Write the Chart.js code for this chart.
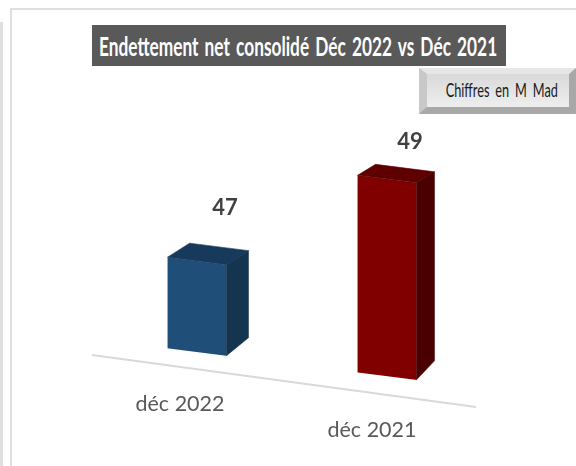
<!DOCTYPE html>
<html>
<head>
<meta charset="utf-8">
<script src="https://cdn.jsdelivr.net/npm/chart.js@4"></script>
<style>
  body { margin: 0; background: #fff; overflow: hidden; }
  #wrap { position: relative; width: 576px; height: 466px; }
  #chart { position: absolute; left: 0; top: 0; }
  .frame { position: absolute; background: #dfdfdf; }
  #title {
    position: absolute; left: 92px; top: 25px; width: 414px; height: 41px;
    background: #595959; color: #fff; text-align: center; white-space: nowrap;
    font: bold 27px/41px Lato, sans-serif;
  }
  #title span { display: inline-block; margin: 0 -100px; transform: translateX(-5px) scaleX(0.64); word-spacing: 3px; }
  #unit {
    position: absolute; left: 419px; top: 68px; width: 157px; height: 46px; box-sizing: border-box;
    border-style: solid; border-width: 6px 7px 7px 8px;
    border-color: #e6e6e6 #a8a8a8 #a8a8a8 #c8c8c8;
    background: linear-gradient(#d9d9d9, #eeeeee); color: #1a1a1a; text-align: center; white-space: nowrap;
    font: 19px/32px Lato, sans-serif;
  }
  #unit span { display: inline-block; margin: 0 -60px; transform: translateX(4px) scaleX(0.67); word-spacing: 4px; }
</style>
</head>
<body>
<div id="wrap">
  <div class="frame" style="left:10px;top:8px;width:566px;height:2px"></div>
  <div class="frame" style="left:10px;top:8px;width:2px;height:458px"></div>
  <div class="frame" style="left:0;top:22px;width:3px;height:444px"></div>
  <canvas id="chart" width="576" height="466"></canvas>
  <div id="title"><span>Endettement net consolidé Déc 2022 vs Déc 2021</span></div>
  <div id="unit"><span>Chiffres en M Mad</span></div>
</div>
<script>
// Data
const categories = ['déc 2022', 'déc 2021'];
const values = [47, 49];

// Colours of the three visible faces of each bar
const frontColors = ['#1f4e79', '#800000'];
const topColors = ['#17395c', '#5f0000'];
const sideColors = ['#15344f', '#4a0000'];

// Fake 3D view: the floor runs downhill to the right
const slope = 0.127;
const pivotX = 197;
const depthX = [22, 18];
const depthTop = [-14, -11];
const depthBottom = [-18, -19];

function tilt(x, y) {
    return y + slope * (x - pivotX);
}

function polygon(ctx, pts, color) {
    ctx.fillStyle = color;
    ctx.strokeStyle = color;
    ctx.lineWidth = 0.6;
    ctx.beginPath();
    pts.forEach(function(p, i) {
        if (i === 0) ctx.moveTo(p[0], p[1]);
        else ctx.lineTo(p[0], p[1]);
    });
    ctx.closePath();
    ctx.fill();
    ctx.stroke();
}

const bars3d = {
    id: 'bars3d',
    beforeDatasetsDraw: function(chart) {
        chart.ctx.save();
        chart.ctx.transform(1, slope, 0, 1, 0, -slope * pivotX);
    },
    afterDatasetsDraw: function(chart) {
        const ctx = chart.ctx;
        ctx.restore();

        // floor line
        ctx.strokeStyle = '#d9d9d9';
        ctx.lineWidth = 2;
        ctx.beginPath();
        ctx.moveTo(92, 355);
        ctx.lineTo(476, 407);
        ctx.stroke();

        const floor = chart.chartArea.bottom;
        chart.getDatasetMeta(0).data.forEach(function(bar, i) {
            const l = bar.x - bar.width / 2;
            const r = bar.x + bar.width / 2;
            const dx = depthX[i];
            const tl = [l, tilt(l, bar.y)];
            const tr = [r, tilt(r, bar.y)];
            const br = [r, tilt(r, floor)];

            polygon(ctx, [tl, tr, [tr[0] + dx, tr[1] + depthTop[i]], [tl[0] + dx, tl[1] + depthTop[i]]], topColors[i]);
            polygon(ctx, [tr, br, [br[0] + dx, br[1] + depthBottom[i]], [tr[0] + dx, tr[1] + depthTop[i]]], sideColors[i]);

            // value above the bar
            ctx.fillStyle = '#404040';
            ctx.font = 'bold 22px Lato';
            ctx.textAlign = 'center';
            ctx.textBaseline = 'middle';
            ctx.fillText(values[i], bar.x + 28 - i * 5, tilt(bar.x, bar.y) - 53 + i * 16);

            // category label under the floor line
            ctx.fillStyle = '#595959';
            ctx.font = '21.5px Lato';
            ctx.fillText(categories[i], bar.x - 17 + i * 2, 404 + i * 26);
        });
    }
};

new Chart(document.getElementById('chart').getContext('2d'), {
    type: 'bar',
    data: {
        labels: categories,
        datasets: [{
            data: values,
            backgroundColor: frontColors,
            barPercentage: 0.31,
            categoryPercentage: 1
        }]
    },
    options: {
        responsive: false,
        animation: false,
        layout: { padding: { left: 102, right: 94, top: 102, bottom: 114 } },
        scales: {
            x: { display: false },
            y: { display: false, min: 45.28, max: 50 }
        },
        plugins: {
            legend: { display: false },
            tooltip: { enabled: false }
        }
    },
    plugins: [bars3d]
});
</script>
</body>
</html>
